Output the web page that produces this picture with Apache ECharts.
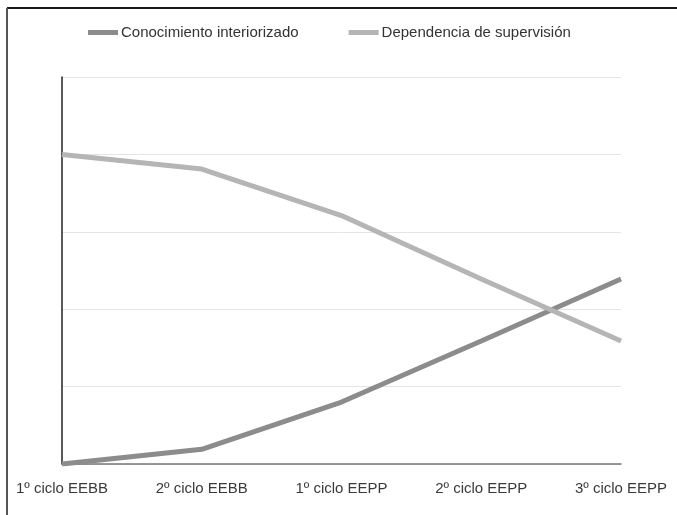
<!DOCTYPE html>
<html>
<head>
<meta charset="utf-8">
<script src="https://cdn.jsdelivr.net/npm/echarts@6/dist/echarts.min.js"></script>
<style>
html,body{margin:0;padding:0;background:#fff;}
#c{width:677px;height:515px;}
</style>
</head>
<body>
<div id="c"></div>
<script>
const categories = ['1º ciclo EEBB', '2º ciclo EEBB', '1º ciclo EEPP', '2º ciclo EEPP', '3º ciclo EEPP'];
const conocimiento = [0, 0.19, 0.80, 1.59, 2.39];
const dependencia = [4.0, 3.81, 3.21, 2.39, 1.59];
const seriesNames = ['Conocimiento interiorizado', 'Dependencia de supervisión'];

const chart = echarts.init(document.getElementById('c'));
const font = '"Liberation Sans", Arial, Helvetica, sans-serif';
chart.setOption({
  animation: false,
  backgroundColor: '#fff',
  graphic: [
    { type: 'line', shape: { x1: 7, y1: 8, x2: 677, y2: 8 }, style: { stroke: '#1a1a1a', lineWidth: 2 } },
    { type: 'line', shape: { x1: 7, y1: 8, x2: 7, y2: 515 }, style: { stroke: '#555', lineWidth: 2 } }
  ],
  legend: {
    left: 88, top: 25, padding: 0,
    itemWidth: 30, itemHeight: 5, itemGap: 50,
    icon: 'rect',
    textStyle: { fontFamily: font, fontSize: 15, color: '#333', padding: [0, 0, 0, -2] },
    data: seriesNames
  },
  grid: { left: 62, right: 56, top: 77, bottom: 51 },
  xAxis: {
    type: 'category',
    data: categories,
    boundaryGap: false,
    axisLine: { lineStyle: { color: '#777', width: 1.5 } },
    axisTick: { show: false },
    axisLabel: { fontFamily: font, fontSize: 15, color: '#3a3a3a', margin: 17 }
  },
  yAxis: {
    type: 'value',
    min: 0, max: 5, interval: 1,
    axisLine: { show: true, lineStyle: { color: '#222', width: 1.5 } },
    axisTick: { show: false },
    axisLabel: { show: false },
    splitLine: { lineStyle: { color: '#e4e4e4', width: 1 } }
  },
  series: [
    { name: seriesNames[0], type: 'line', data: conocimiento, showSymbol: false, symbol: 'none',
      lineStyle: { color: '#8c8c8c', width: 5 }, itemStyle: { color: '#8c8c8c' } },
    { name: seriesNames[1], type: 'line', data: dependencia, showSymbol: false, symbol: 'none',
      lineStyle: { color: '#b5b5b5', width: 5 }, itemStyle: { color: '#b5b5b5' } }
  ]
});
</script>
</body>
</html>
